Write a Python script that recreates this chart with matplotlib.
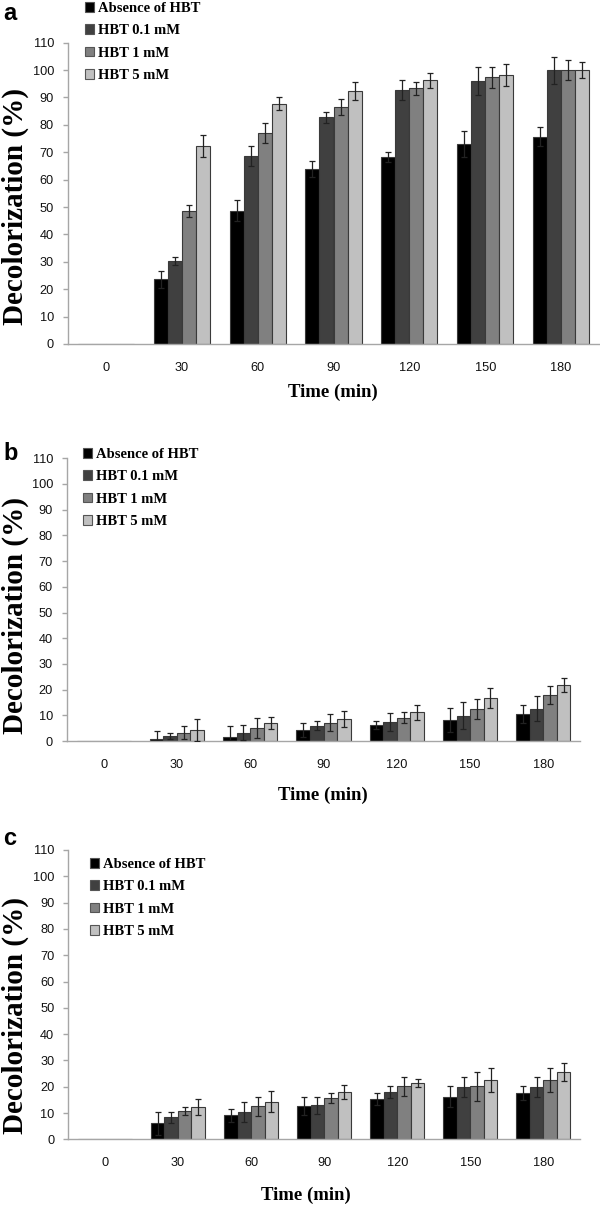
#!/usr/bin/env python3
"""Decolorization vs time for three dyes, with and without HBT mediator."""

import matplotlib as mpl
mpl.use('Agg')
import matplotlib.pyplot as plt
from matplotlib.patches import Patch
import numpy as np

# -----------------------------------------------------------------------------
# DATA
times = ['0', '30', '60', '90', '120', '150', '180']
series_labels = ['Absence of HBT', 'HBT 0.1 mM', 'HBT 1 mM', 'HBT 5 mM']

# panel a
a_absence = [0, 23.6, 48.7, 63.9, 68.4, 73.0, 75.7]
a_hbt01 = [0, 30.3, 68.6, 82.7, 92.8, 96.0, 100.0]
a_hbt1 = [0, 48.5, 77.0, 86.5, 93.3, 97.3, 100.0]
a_hbt5 = [0, 72.3, 87.8, 92.3, 96.2, 98.1, 100.0]
a_absence_err = [0, 3.0, 3.9, 2.8, 1.8, 4.6, 3.4]
a_hbt01_err = [0, 1.3, 3.7, 1.9, 3.6, 5.2, 4.9]
a_hbt1_err = [0, 2.3, 3.8, 3.0, 2.3, 4.0, 3.8]
a_hbt5_err = [0, 4.1, 2.2, 3.2, 2.8, 4.0, 2.8]

# panel b
b_absence = [0, 0.8, 1.6, 4.3, 6.2, 8.2, 10.5]
b_hbt01 = [0, 1.8, 3.2, 6.0, 7.4, 9.8, 12.6]
b_hbt1 = [0, 3.2, 5.2, 7.1, 9.1, 12.4, 17.9]
b_hbt5 = [0, 4.3, 6.9, 8.5, 11.1, 16.7, 21.8]
b_absence_err = [0, 3.0, 4.1, 2.8, 1.7, 4.6, 3.5]
b_hbt01_err = [0, 1.2, 3.0, 1.9, 3.5, 5.2, 4.9]
b_hbt1_err = [0, 2.5, 3.9, 3.4, 2.1, 3.8, 3.5]
b_hbt5_err = [0, 4.2, 2.3, 3.1, 2.9, 3.9, 2.7]

# panel c
c_absence = [0, 6.1, 9.1, 12.7, 15.3, 16.2, 17.5]
c_hbt01 = [0, 8.4, 10.3, 13.0, 18.0, 19.8, 19.8]
c_hbt1 = [0, 10.9, 12.5, 15.6, 20.1, 20.1, 22.4]
c_hbt5 = [0, 12.2, 14.3, 18.0, 21.3, 22.4, 25.5]
c_absence_err = [0, 4.4, 2.4, 3.3, 2.4, 3.9, 2.6]
c_hbt01_err = [0, 2.1, 3.8, 3.2, 2.3, 3.8, 3.8]
c_hbt1_err = [0, 1.5, 3.5, 1.9, 3.6, 5.5, 4.6]
c_hbt5_err = [0, 3.0, 4.0, 2.6, 1.5, 4.6, 3.4]

yticks = list(range(0, 111, 10))

# -----------------------------------------------------------------------------
# STYLE
colors = ['#000000', '#404040', '#808080', '#c0c0c0']
edge = '#3a3a3a'
axis_gray = '#a6a6a6'
bar_w = 0.185
serif = ['Liberation Serif', 'DejaVu Serif']
sans = ['Liberation Sans', 'DejaVu Sans']

mpl.rc('font', family=sans, size=9)

W, H = 600, 1206


def px_rect(left, right, top, bottom):
    """Convert pixel box to figure fraction [l, b, w, h]"""
    return [left / W, 1 - bottom / H, (right - left) / W, (bottom - top) / H]


def draw_panel(ax, vals, errs):
    """Grouped bars with error bars, Excel look"""
    x = np.arange(len(times))
    for k in range(4):
        pos = x + (k - 1.5) * bar_w
        ax.bar(pos, vals[k], width=bar_w, color=colors[k],
               edgecolor=edge, linewidth=0.8, zorder=2)
        ax.errorbar(pos[1:], vals[k][1:], yerr=errs[k][1:], fmt='none',
                    ecolor='#222222', elinewidth=0.9, capsize=2.2,
                    capthick=0.9, zorder=3)
    ax.set_xlim(-0.5, len(times) - 0.5)
    ax.set_ylim(0, 110)
    ax.set_yticks(yticks)
    ax.set_xticks(x)
    ax.set_xticklabels(times)
    for s in ['top', 'right']:
        ax.spines[s].set_visible(False)
    for s in ['left', 'bottom']:
        ax.spines[s].set_color(axis_gray)
        ax.spines[s].set_linewidth(1.0)
    ax.tick_params(axis='y', direction='out', length=3.6, width=1.0,
                   color=axis_gray, pad=6.5, labelsize=9.2,
                   labelcolor='#111111')
    ax.tick_params(axis='x', length=0, pad=13, labelsize=9.2,
                   labelcolor='#111111')


fig = plt.figure(figsize=(W / 100, H / 100), dpi=100)

panels = [
    {'rect': px_rect(68, 599, 42.7, 344),
     'vals': [a_absence, a_hbt01, a_hbt1, a_hbt5],
     'errs': [a_absence_err, a_hbt01_err, a_hbt1_err, a_hbt5_err],
     'letter': ('a', 3, 20), 'ylab_y': 207, 'xlab': (333, 392),
     'leg': (85, 2)},
    {'rect': px_rect(67, 580, 458.3, 741),
     'vals': [b_absence, b_hbt01, b_hbt1, b_hbt5],
     'errs': [b_absence_err, b_hbt01_err, b_hbt1_err, b_hbt5_err],
     'letter': ('b', 3, 460), 'ylab_y': 616, 'xlab': (323, 795),
     'leg': (83, 448)},
    {'rect': px_rect(68.3, 580, 850, 1139.3),
     'vals': [c_absence, c_hbt01, c_hbt1, c_hbt5],
     'errs': [c_absence_err, c_hbt01_err, c_hbt1_err, c_hbt5_err],
     'letter': ('c', 3, 845), 'ylab_y': 1016, 'xlab': (306, 1195),
     'leg': (90, 858)},
]

for p in panels:
    ax = fig.add_axes(p['rect'])
    draw_panel(ax, p['vals'], p['errs'])

    letter, lx, ly = p['letter']
    fig.text(lx / W, 1 - ly / H, letter, family=sans, weight='bold',
             fontsize=17, ha='left', va='baseline')
    fig.text(15 / W, 1 - p['ylab_y'] / H, 'Decolorization (%)',
             family=serif, weight='bold', fontsize=21, rotation=90,
             ha='center', va='center')
    fig.text(p['xlab'][0] / W, 1 - p['xlab'][1] / H, 'Time (min)',
             family=serif, weight='bold', fontsize=13.5,
             ha='center', va='center')

    handles = [Patch(facecolor=c, edgecolor='#555555', linewidth=0.8)
               for c in colors]
    fig.legend(handles, series_labels, loc='upper left',
               bbox_to_anchor=(p['leg'][0] / W, 1 - p['leg'][1] / H),
               frameon=False, borderpad=0, borderaxespad=0,
               handlelength=0.62, handleheight=0.62, handletextpad=0.25,
               labelspacing=0.64,
               prop={'family': serif, 'weight': 'bold', 'size': 10.5})

fig.savefig('out.png', dpi=100)
